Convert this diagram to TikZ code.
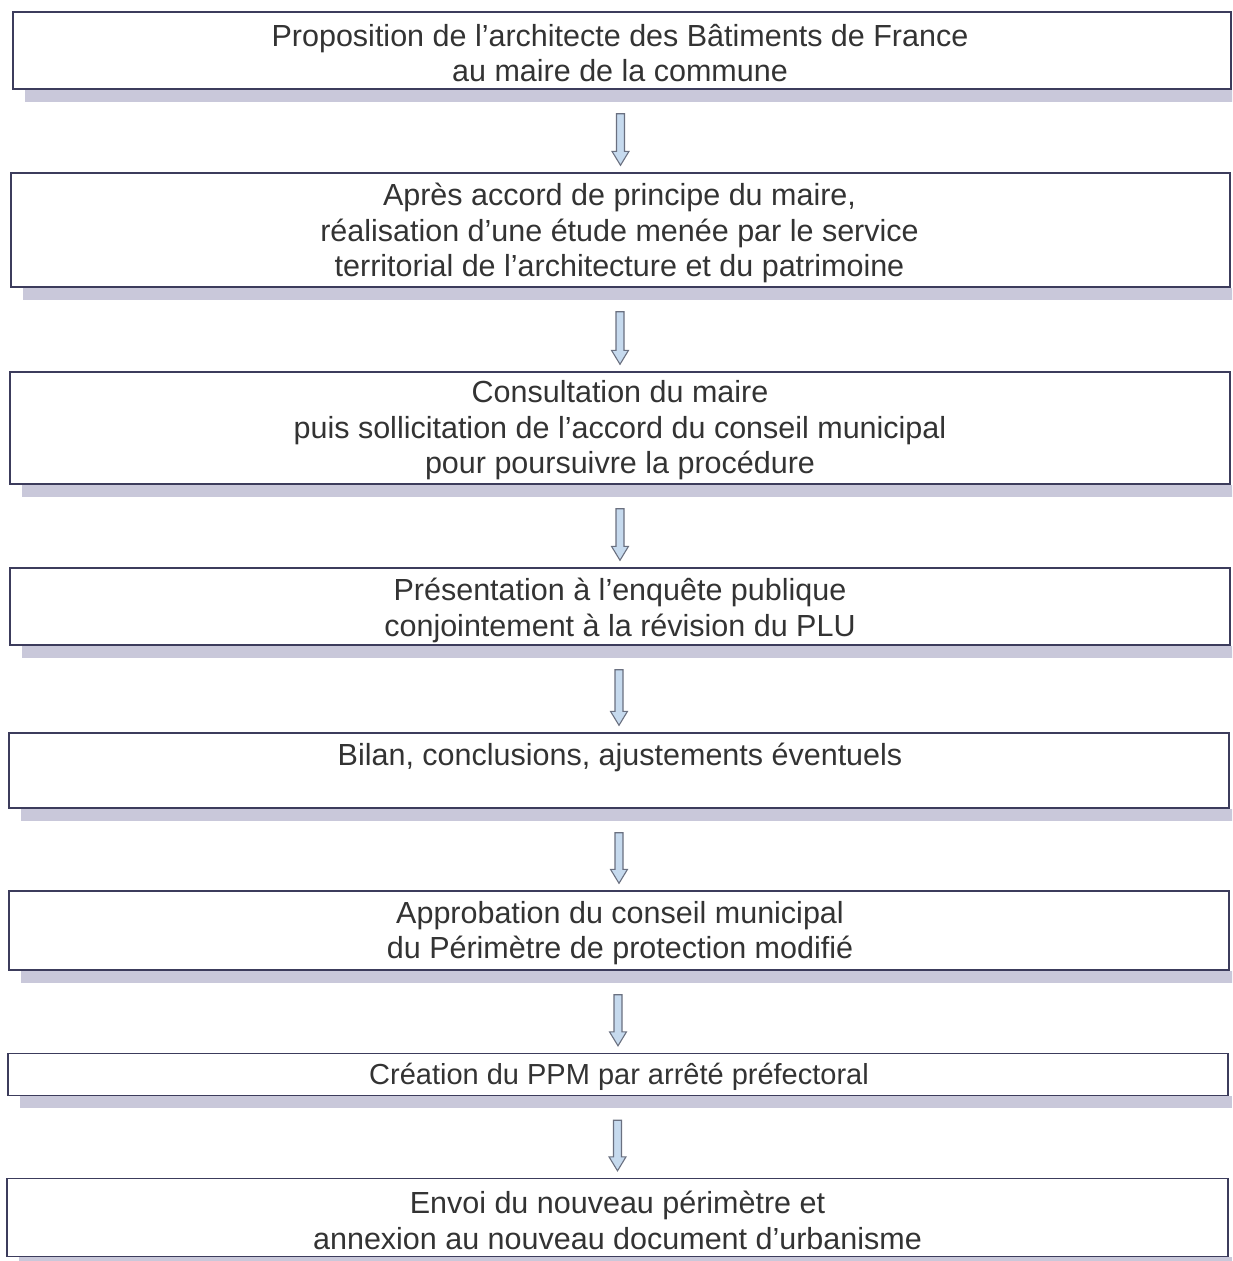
\documentclass[tikz,border=0pt]{standalone}
\usepackage{fontspec}
\setmainfont{Liberation Sans}
\usetikzlibrary{calc}
\definecolor{txtc}{HTML}{333333}
\definecolor{boxline}{HTML}{3C3C5C}
\definecolor{shadc}{HTML}{C9C8DA}
\definecolor{arrfill}{HTML}{C6DAEE}
\definecolor{arrline}{HTML}{6A7080}
\tikzset{
  flowbox/.style={draw=boxline, line width=1.4pt, fill=white, inner sep=0pt},
  flowtext/.style={inner sep=0pt, align=center, text=txtc, font=\fontsize{30.5}{35.5}\selectfont},
  boxshadow/.style={fill=shadc},
  arrowshape/.style={draw=arrline, line width=1.1pt, fill=arrfill, line join=miter}
}
\newcommand\flowshadow[1]{\fill[boxshadow] ($(#1.south west)+(13,0)$) rectangle ($(#1.south east)+(3,12)$);}
\newcommand\flowarrow[2]{\draw[arrowshape] let \p1=(#1.south), \p2=(#2.north) in
  (\x2-4pt,\y1-24pt) -- (\x2+4pt,\y1-24pt) -- (\x2+4pt,\y2+21pt) -- (\x2+8.5pt,\y2+21pt)
  -- (\x2,\y2+7pt) -- (\x2-8.5pt,\y2+21pt) -- (\x2-4pt,\y2+21pt) -- cycle;}
\begin{document}
\begin{tikzpicture}[x=1pt,y=-1pt]
\useasboundingbox (0,0) rectangle (1232,1261);
\clip (0,0) rectangle (1232,1261);
% boxes
\node[flowbox, minimum width=1218pt, minimum height=77pt] (b1) at (622,50.5) {};
\node[flowbox, minimum width=1219pt, minimum height=114pt] (b2) at (620.5,230) {};
\node[flowbox, minimum width=1220pt, minimum height=112pt] (b3) at (620,428) {};
\node[flowbox, minimum width=1220pt, minimum height=77pt] (b4) at (620,606.5) {};
\node[flowbox, minimum width=1220pt, minimum height=75pt] (b5) at (619,770.5) {};
\node[flowbox, minimum width=1220pt, minimum height=79pt] (b6) at (619,930.5) {};
\node[flowbox, minimum width=1220pt, minimum height=42pt] (b7) at (618,1074.5) {};
\node[flowbox, minimum width=1221pt, minimum height=78pt] (b8) at (617.5,1217.5) {};
% texts
\node[flowtext] (t1) at ($(b1.center)+(-2,2.5)$)
  {Proposition de l’architecte des Bâtiments de France\\au maire de la commune};
\node[flowtext] (t2) at ($(b2.center)+(-1,3)$)
  {Après accord de principe du maire,\\réalisation d’une étude menée par le service\\territorial de l’architecture et du patrimoine};
\node[flowtext] (t3) at ($(b3.center)+(0,2.5)$)
  {Consultation du maire\\puis sollicitation de l’accord du conseil municipal\\pour poursuivre la procédure};
\node[flowtext] (t4) at ($(b4.center)+(0,4)$)
  {Présentation à l’enquête publique\\conjointement à la révision du PLU};
\node[flowtext] (t5) at ($(b5.center)+(1,-13)$)
  {Bilan, conclusions, ajustements éventuels};
\node[flowtext] (t6) at ($(b6.center)+(1,2.5)$)
  {Approbation du conseil municipal\\du Périmètre de protection modifié};
\node[flowtext, font=\fontsize{29}{35}\selectfont] (t7) at ($(b7.center)+(1,2.5)$)
  {Création du PPM par arrêté préfectoral};
\node[flowtext] (t8) at ($(b8.center)+(0,3)$)
  {Envoi du nouveau périmètre et\\annexion au nouveau document d’urbanisme};
% shadows
\flowshadow{b1}\flowshadow{b2}\flowshadow{b3}\flowshadow{b4}
\flowshadow{b5}\flowshadow{b6}\flowshadow{b7}\flowshadow{b8}
% arrows
\flowarrow{b1}{b2}
\flowarrow{b2}{b3}
\flowarrow{b3}{b4}
\flowarrow{b4}{b5}
\flowarrow{b5}{b6}
\flowarrow{b6}{b7}
\flowarrow{b7}{b8}
\end{tikzpicture}
\end{document}
